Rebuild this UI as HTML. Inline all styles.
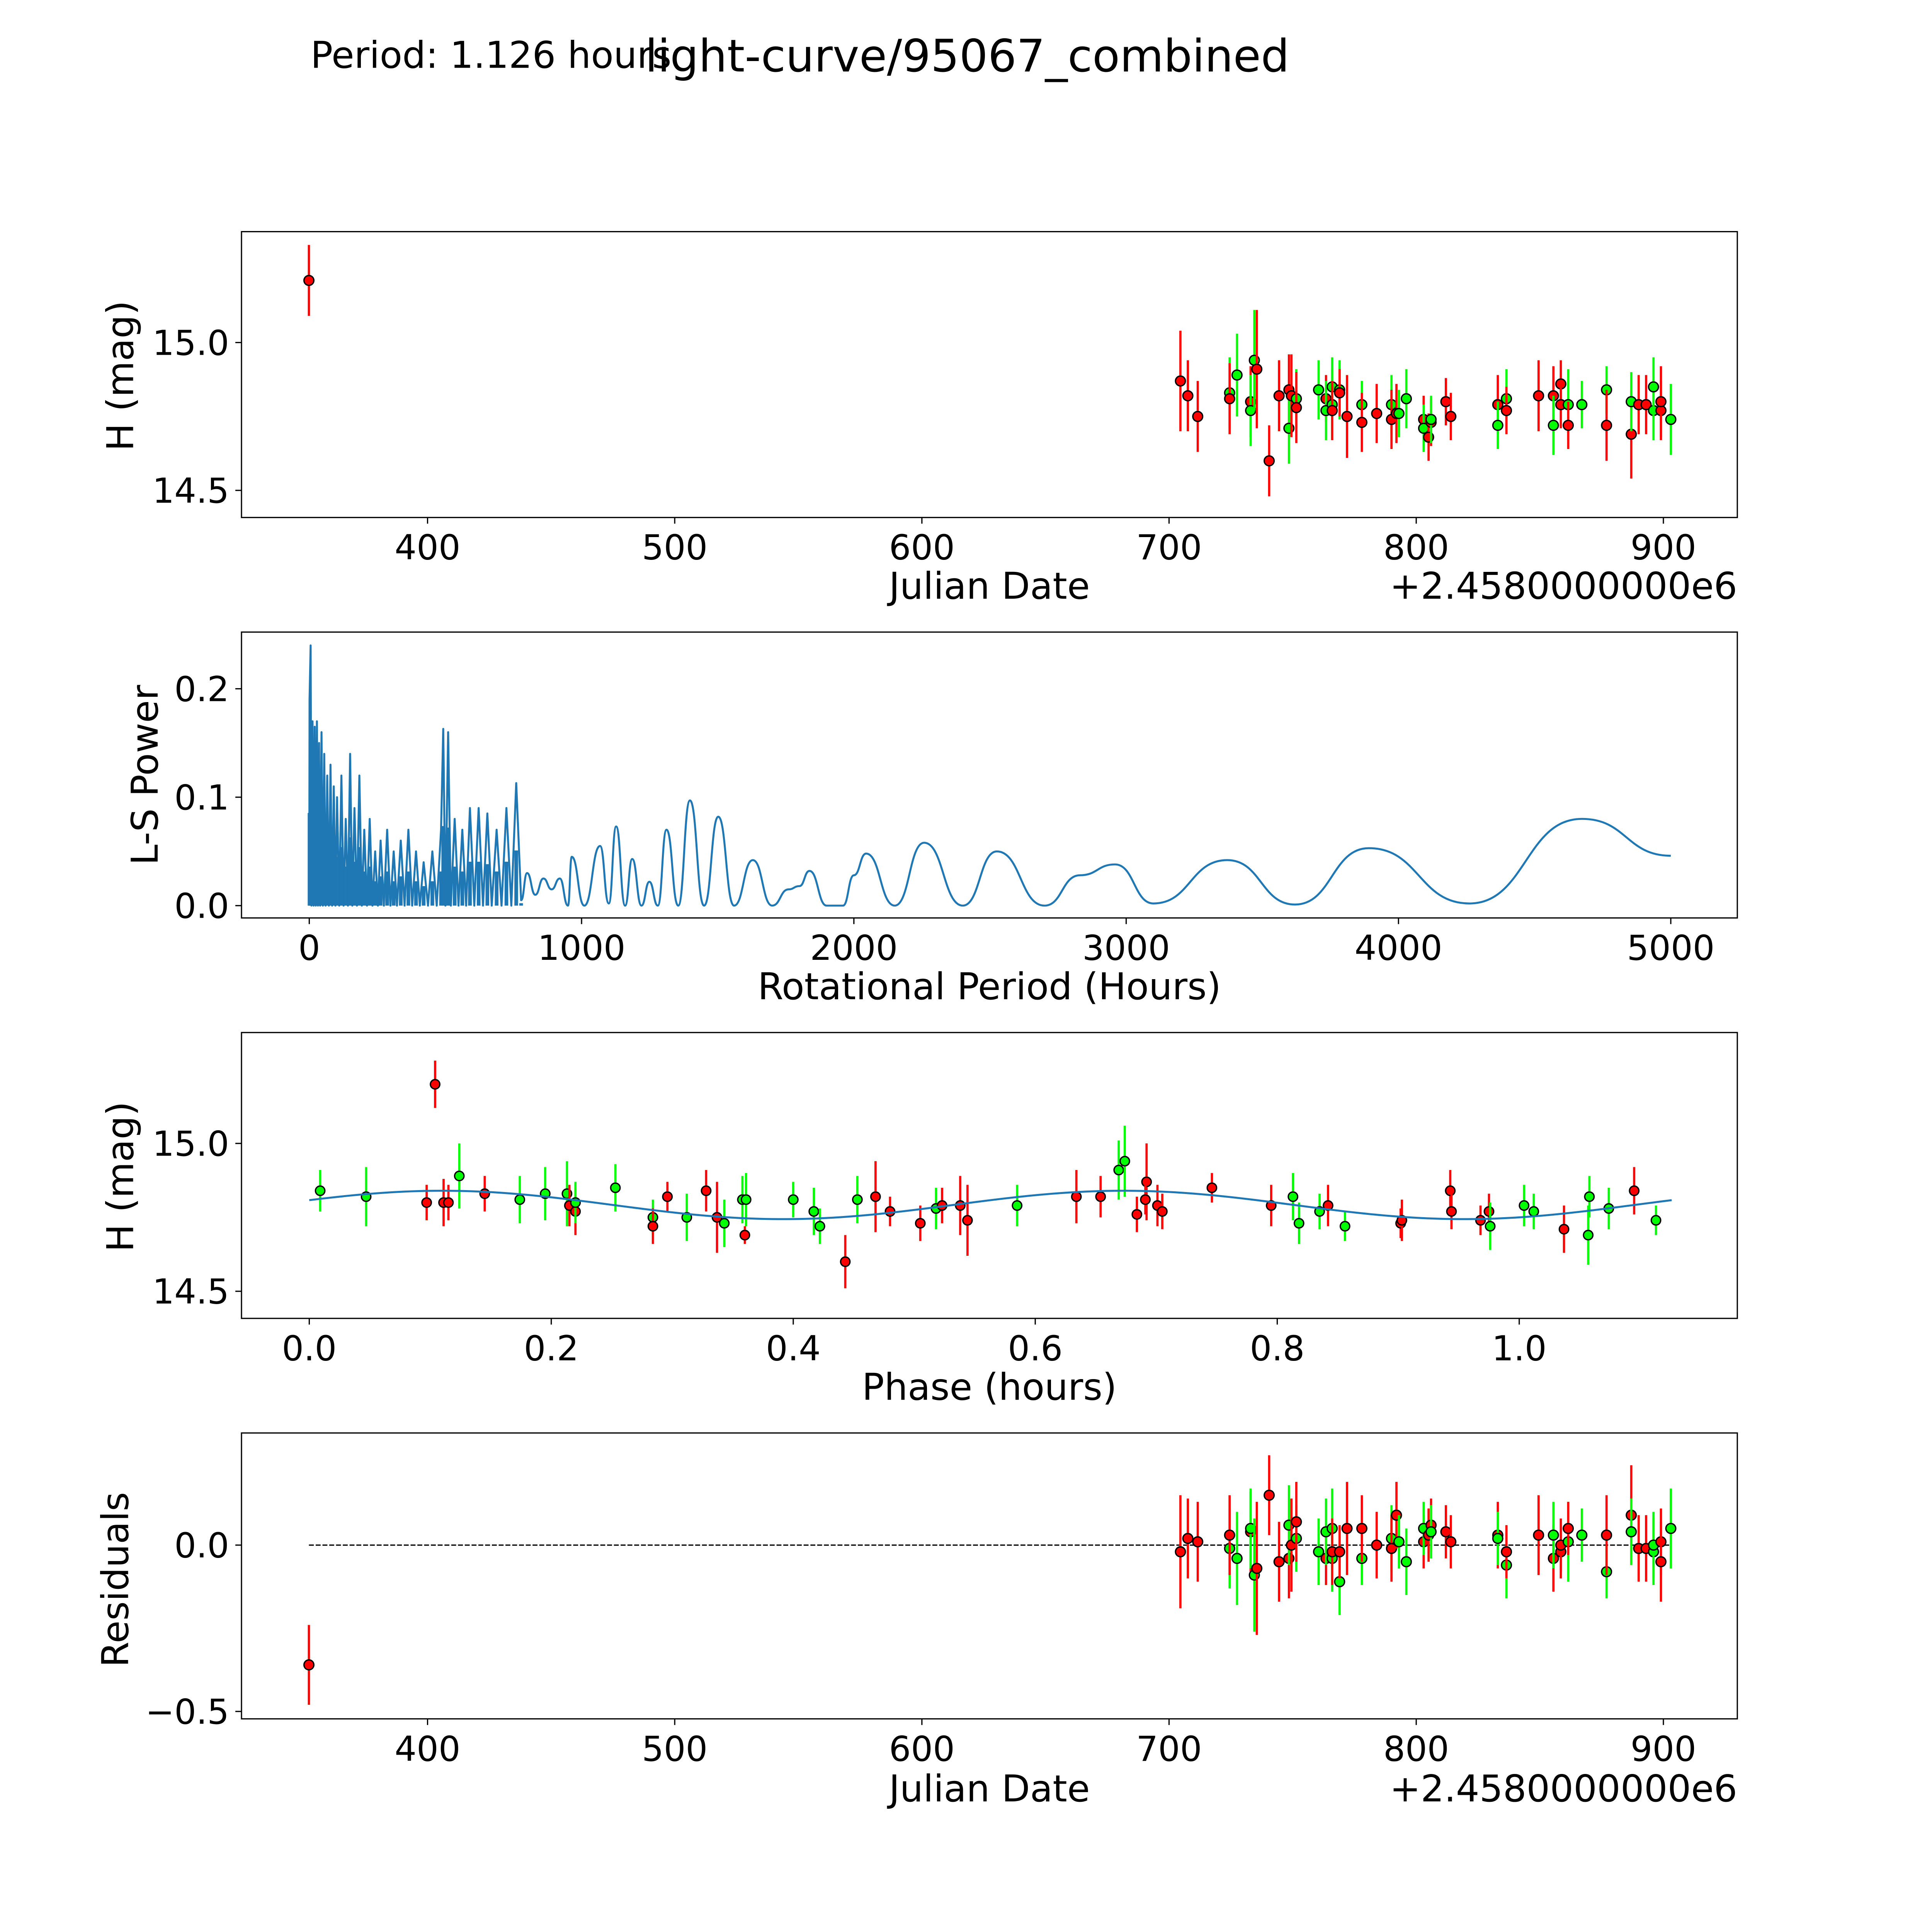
<!DOCTYPE html>
<html><head><meta charset="utf-8"><style>
html,body{margin:0;padding:0;background:#fff;overflow:hidden;width:100%;height:100%}
svg{display:block;position:absolute;left:0;top:0;width:100vw;height:100vh}
text{font-family:"DejaVu Sans","Liberation Sans",sans-serif;fill:#000}
</style></head><body>
<svg id="fig" xmlns="http://www.w3.org/2000/svg" viewBox="0 0 1568 1568" preserveAspectRatio="none">
<rect x="0" y="0" width="1568" height="1568" fill="#fff"/>
<text x="252" y="55" font-size="30">Period: 1.126 hours</text>
<text x="785" y="58" font-size="36.5" text-anchor="middle">light-curve/95067_combined</text>
<g id="g1"></g>
<g id="g2"></g>
<g id="g3"></g>
<g id="g4"></g>
</svg>
<script>
// ---- light-curve data ----
const lcDate = [352,704.6,707.6,711.6,724.5,724.5,727.5,733,733,734.5,735.5,740.5,744.5,748.5,748.5,749.5,751.5,751.5,760.5,763.5,763.5,766,766,766,769,769,772,778,778,784,790,790,792,793,796,803,803,805,806,806,812,814,833,833,836.5,836.5,849.5,855.5,855.5,858.5,858.5,861.5,861.5,867,877,877,887,887,890,893,896,896,899,899,903];
const lcMag = [15.21,14.87,14.82,14.75,14.83,14.81,14.89,14.80,14.77,14.94,14.91,14.60,14.82,14.84,14.71,14.82,14.81,14.78,14.84,14.81,14.77,14.85,14.79,14.77,14.84,14.83,14.75,14.79,14.73,14.76,14.79,14.74,14.76,14.76,14.81,14.74,14.71,14.68,14.73,14.74,14.80,14.75,14.79,14.72,14.81,14.77,14.82,14.82,14.72,14.86,14.79,14.79,14.72,14.79,14.84,14.72,14.69,14.80,14.79,14.79,14.77,14.85,14.77,14.80,14.74];
const lcErr = [0.12,0.17,0.12,0.12,0.12,0.12,0.14,0.12,0.12,0.17,0.20,0.12,0.12,0.12,0.12,0.14,0.10,0.12,0.10,0.08,0.10,0.10,0.12,0.10,0.10,0.08,0.14,0.08,0.10,0.10,0.10,0.10,0.10,0.08,0.10,0.08,0.08,0.08,0.08,0.08,0.08,0.08,0.10,0.08,0.10,0.08,0.12,0.10,0.10,0.08,0.08,0.12,0.08,0.08,0.08,0.12,0.15,0.10,0.10,0.10,0.10,0.10,0.10,0.12,0.12];
const lcBand = "rrrrgrgrggrrrrgrgrgrgggrgrrgrrgrrggrgrrgrrrggrrrgrrgrggrrgrrggrrgg";
const lcResid = [-0.36,-0.02,0.02,0.01,-0.01,0.03,-0.04,0.04,0.05,-0.09,-0.07,0.15,-0.05,-0.04,0.06,0.00,0.02,0.07,-0.02,-0.04,0.04,-0.04,0.05,-0.02,-0.11,-0.02,0.05,-0.04,0.05,0.00,0.02,-0.01,0.09,0.01,-0.05,0.01,0.05,0.03,0.06,0.04,0.04,0.01,0.03,0.02,-0.06,-0.02,0.03,-0.04,0.03,-0.02,0.00,0.01,0.05,0.03,-0.08,0.03,0.09,0.04,-0.01,-0.01,-0.02,0.00,0.01,-0.05,0.05];
const dateTicks = [400,500,600,700,800,900];
const magTicks = [15.0,14.5];
// ---- periodogram data ----
const pgPeriod = [1,5,8,12,16,20,24,28,32,36,40,45,50,55,60,66,72,78,84,90,96,102,110,118,126,134,142,150,158,166,175,184,193,202,212,222,232,242,252,262,274,286,298,310,322,336,350,364,378,392,406,420,436,452,468,484,492,500,510,520,534,548,562,576,590,606,622,638,654,670,688,706,724,742,760,778,800,830,860,890,920,950,964,1010,1068,1100,1127,1160,1186,1220,1249,1280,1312,1355,1398,1450,1502,1560,1629,1700,1760,1800,1837,1900,1960,2000,2045,2150,2258,2400,2525,2700,2830,2959,3100,3371,3620,3891,4260,4674,5000];
const pgPower = [0.19,0.24,0.0,0.17,0.0,0.165,0.0,0.17,0.0,0.15,0.0,0.16,0.0,0.14,0.0,0.12,0.0,0.13,0.0,0.11,0.0,0.10,0.0,0.12,0.0,0.08,0.0,0.14,0.0,0.09,0.0,0.12,0.0,0.07,0.0,0.08,0.0,0.05,0.0,0.06,0.0,0.07,0.0,0.05,0.0,0.06,0.0,0.07,0.0,0.05,0.0,0.04,0.0,0.05,0.0,0.07,0.163,0.0,0.16,0.0,0.08,0.0,0.07,0.0,0.09,0.0,0.09,0.0,0.085,0.0,0.07,0.0,0.09,0.0,0.113,0.005,0.03,0.01,0.025,0.015,0.025,0.0,0.045,0.0,0.055,0.002,0.073,0.0,0.043,0.0,0.022,0.0,0.07,0.0,0.097,0.0,0.082,0.0,0.042,0.0,0.015,0.018,0.032,0.0,0.0,0.028,0.048,0.0,0.058,0.0,0.05,0.0,0.028,0.038,0.002,0.042,0.001,0.053,0.002,0.08,0.046];
const pgXTicks = [0,1000,2000,3000,4000,5000];
const pgYTicks = [0.0,0.1,0.2];
// ---- phase-folded data ----
const phPhase = [0.009,0.047,0.097,0.104,0.111,0.115,0.124,0.145,0.174,0.195,0.213,0.215,0.220,0.220,0.253,0.284,0.284,0.296,0.312,0.328,0.337,0.343,0.360,0.358,0.361,0.400,0.417,0.422,0.443,0.453,0.468,0.480,0.505,0.518,0.523,0.538,0.544,0.585,0.634,0.654,0.669,0.674,0.684,0.692,0.691,0.701,0.705,0.746,0.795,0.813,0.818,0.835,0.842,0.856,0.902,0.903,0.943,0.944,0.968,0.975,0.976,1.004,1.012,1.037,1.057,1.058,1.074,1.095,1.113];
const phMag = [14.84,14.82,14.80,15.20,14.80,14.80,14.89,14.83,14.81,14.83,14.83,14.79,14.77,14.80,14.85,14.75,14.72,14.82,14.75,14.84,14.75,14.73,14.69,14.81,14.81,14.81,14.77,14.72,14.60,14.81,14.82,14.77,14.73,14.78,14.79,14.79,14.74,14.79,14.82,14.82,14.91,14.94,14.76,14.87,14.81,14.79,14.77,14.85,14.79,14.82,14.73,14.77,14.79,14.72,14.73,14.74,14.84,14.77,14.74,14.77,14.72,14.79,14.77,14.71,14.69,14.82,14.78,14.84,14.74];
const phErr = [0.07,0.10,0.06,0.08,0.08,0.06,0.11,0.06,0.08,0.09,0.11,0.07,0.08,0.07,0.08,0.06,0.06,0.05,0.08,0.07,0.12,0.08,0.03,0.08,0.09,0.06,0.08,0.06,0.09,0.08,0.12,0.05,0.06,0.07,0.06,0.10,0.12,0.07,0.09,0.07,0.10,0.12,0.06,0.13,0.05,0.07,0.06,0.05,0.07,0.08,0.07,0.06,0.07,0.05,0.05,0.07,0.07,0.06,0.05,0.06,0.08,0.07,0.06,0.08,0.10,0.07,0.07,0.08,0.05];
const phBand = "ggrrrrgrgggrrgggrrgrrgrgggggrgrrrgrrrgrrggrrrrrrrgggrgrrrrrrgggrgggrg";
const phXTicks = [0.0,0.2,0.4,0.6,0.8,1.0];
const fitMean = [14.792];
const fitAmp = [0.048];
const fitPeak = [0.11];
const fitPeriod = [1.126];
const residTicks = [0.0,-0.5];

const NS = "http://www.w3.org/2000/svg";
function mk(tag, parent, attrs){const e=document.createElementNS(NS,tag);for(const k in attrs)e.setAttribute(k,attrs[k]);parent.appendChild(e);return e;}
const L=196,R=1410;
const TF=28, LF=30;
function frame(g, top){ const r=mk('rect',g,{x:L,y:top,width:R-L,height:232,fill:'none',stroke:'#000','stroke-width':1});
 
  }
function xtick(g, x, y, label){ const t=mk('line',g,{x1:x,x2:x,y1:y,y2:y+5,stroke:'#000','stroke-width':1});
 
 
 const s=mk('text',g,{x:x,y:y+34,'font-size':TF,'text-anchor':'middle'}); s.textContent=label;
 
  }
function ytick(g, x, y, label){ const t=mk('line',g,{x1:x-5,x2:x,y1:y,y2:y,stroke:'#000','stroke-width':1});
 
 
 const s=mk('text',g,{x:x-10,y:y+10,'font-size':TF,'text-anchor':'end'}); s.textContent=label;
 
  }
function label(g, x, y, txt, rot, nm){ const s=mk('text',g,{x:x,y:y,'font-size':LF,'text-anchor':'middle'}); if(rot) s.setAttribute('transform','rotate(-90 '+x+' '+y+')'); s.textContent=txt;
 
  }
function errpt(g, x, y, e1, e2, col, r){ const c=col==='r'?'#ff0000':'#00ff00';
 const l=mk('line',g,{x1:x,x2:x,y1:e1,y2:e2,stroke:c,'stroke-width':1.8});
 
 
 const p=mk('circle',g,{cx:x,cy:y,r:r,fill:c,stroke:'#000','stroke-width':1.1});
 
  }
function fmt1(v){return v<0?'\u2212'+(-v).toFixed(1):v.toFixed(1);}
const xDate = d => 347 + (d-400)*2.006;
const y1 = m => 278 - (m-15)*240;
const xPer = p => 251 + p*0.221;
const y2 = v => 735 - v*880;
const xPh = p => 251 + p*982;
const y3 = m => 928 - (m-15)*240;
const y4 = r => 1254 - r*270;

// Panel 1
const g1=document.getElementById('g1');
frame(g1,188);
dateTicks.forEach(t=>xtick(g1,xDate(t),420,String(t)));
magTicks.forEach(t=>ytick(g1,L,y1(t),t.toFixed(1)));
lcDate.forEach((d,i)=>errpt(g1,xDate(d),y1(lcMag[i]),y1(lcMag[i]+lcErr[i]),y1(lcMag[i]-lcErr[i]),lcBand[i],4));
label(g1,803,486,'Julian Date',false,'x-axis-title');
label(g1,108,305,'H (mag)',true,'y-axis-title');
{const s=mk('text',g1,{x:1410,y:486,'font-size':LF,'text-anchor':'end'}); s.textContent='+2.4580000000e6';
 
 }

// Panel 2
const g2=document.getElementById('g2');
frame(g2,513);
pgXTicks.forEach(t=>xtick(g2,xPer(t),745,String(t)));
pgYTicks.forEach(t=>ytick(g2,L,y2(t),t.toFixed(1)));
{let d='M'+xPer(0)+','+y2(0);
 let px=xPer(0), py=y2(0);
 pgPeriod.forEach((p,i)=>{const x=xPer(p), y=y2(pgPower[i]);
   if(p<800){ d+=' L'+x.toFixed(2)+','+y.toFixed(2);}
   else { const mx=(px+x)/2; d+=' C'+mx.toFixed(2)+','+py.toFixed(2)+' '+mx.toFixed(2)+','+y.toFixed(2)+' '+x.toFixed(2)+','+y.toFixed(2);}
   px=x; py=y; });
 const pa=mk('path',g2,{d:d,fill:'none',stroke:'#1f77b4','stroke-width':1.6,'stroke-linejoin':'round'});
 
 
 for(let i=0;i<pgPeriod.length;i++){ if(pgPeriod[i]>780) break;
   const f=mk('line',g2,{x1:xPer(pgPeriod[i]),x2:xPer(pgPeriod[i]),y1:y2(0),y2:y2(pgPower[i]*0.45),stroke:'#1f77b4','stroke-width':3});
   
    }
}
label(g2,803,811,'Rotational Period (Hours)',false,'x-axis-title');
label(g2,128,629,'L-S Power',true,'y-axis-title');

// Panel 3
const g3=document.getElementById('g3');
frame(g3,838);
phXTicks.forEach(t=>xtick(g3,xPh(t),1070,t.toFixed(1)));
magTicks.forEach(t=>ytick(g3,L,y3(t),t.toFixed(1)));
phPhase.forEach((p,i)=>errpt(g3,xPh(p),y3(phMag[i]),y3(phMag[i]+phErr[i]),y3(phMag[i]-phErr[i]),phBand[i],3.8));
{let d='';
 for(let k=0;k<=200;k++){const p=fitPeriod[0]*k/200;
   const m=fitMean[0]+fitAmp[0]*Math.cos(2*Math.PI*(p-fitPeak[0])/(fitPeriod[0]/2));
   d+=(k?' L':'M')+xPh(p).toFixed(2)+','+y3(m).toFixed(2);}
 const pa=mk('path',g3,{d:d,fill:'none',stroke:'#1f77b4','stroke-width':1.6});
 
 }
label(g3,803,1136,'Phase (hours)',false,'x-axis-title');
label(g3,108,955,'H (mag)',true,'y-axis-title');

// Panel 4
const g4=document.getElementById('g4');
frame(g4,1163);
dateTicks.forEach(t=>xtick(g4,xDate(t),1395,String(t)));
residTicks.forEach(t=>ytick(g4,L,y4(t),fmt1(t)));
{const z=mk('line',g4,{x1:xDate(352),x2:xDate(903),y1:y4(0),y2:y4(0),stroke:'#000','stroke-width':1,'stroke-dasharray':'4,1.5'});
 
 }
lcDate.forEach((d,i)=>errpt(g4,xDate(d),y4(lcResid[i]),y4(lcResid[i]+lcErr[i]),y4(lcResid[i]-lcErr[i]),lcBand[i],4));
label(g4,803,1462,'Julian Date',false,'x-axis-title');
label(g4,104,1282,'Residuals',true,'y-axis-title');
{const s=mk('text',g4,{x:1410,y:1462,'font-size':LF,'text-anchor':'end'}); s.textContent='+2.4580000000e6';
 
 }
</script>
</body></html>
